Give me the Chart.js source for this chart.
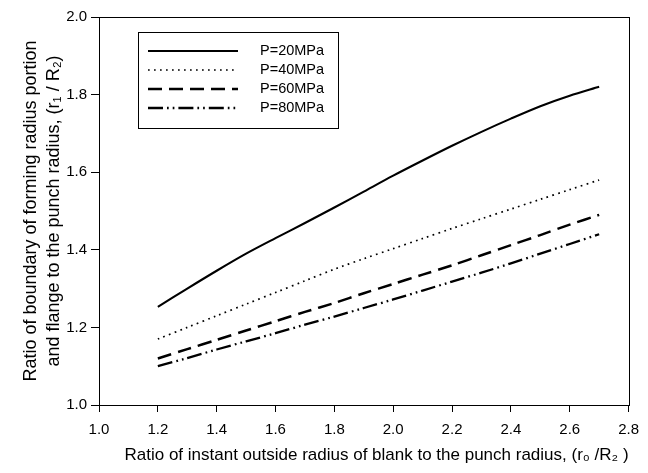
<!DOCTYPE html>
<html>
<head>
<meta charset="utf-8">
<script src="https://cdn.jsdelivr.net/npm/chart.js@4/dist/chart.umd.min.js"></script>
<style>
  html, body { margin: 0; padding: 0; background: #ffffff; }
  #wrap { width: 648px; height: 473px; }
</style>
</head>
<body>
<div id="wrap"><canvas id="c" width="648" height="473"></canvas></div>
<script>
// r0/R2 values where each curve is sampled
const ratioR0 = [1.2, 1.3, 1.4, 1.5, 1.6, 1.7, 1.8, 1.9, 2.0, 2.1, 2.2, 2.3, 2.4, 2.5, 2.6, 2.7];

// r1/R2 for each punch pressure
const p20 = [1.253, 1.300, 1.346, 1.390, 1.430, 1.469, 1.509, 1.550, 1.591, 1.630, 1.668, 1.704, 1.738, 1.770, 1.797, 1.820];
const p40 = [1.170, 1.200, 1.230, 1.260, 1.290, 1.320, 1.350, 1.377, 1.403, 1.429, 1.455, 1.480, 1.505, 1.530, 1.555, 1.580];
const p60 = [1.120, 1.144, 1.168, 1.192, 1.216, 1.240, 1.263, 1.288, 1.312, 1.336, 1.360, 1.386, 1.412, 1.438, 1.465, 1.490];
const p80 = [1.100, 1.121, 1.143, 1.164, 1.185, 1.207, 1.228, 1.250, 1.272, 1.295, 1.318, 1.341, 1.365, 1.390, 1.415, 1.440];

const seriesLabels = ['P=20MPa', 'P=40MPa', 'P=60MPa', 'P=80MPa'];

const xTicks = [1.0, 1.2, 1.4, 1.6, 1.8, 2.0, 2.2, 2.4, 2.6, 2.8];
const yTicks = [1.0, 1.2, 1.4, 1.6, 1.8, 2.0];

const FONT = '"Liberation Sans", Arial, Helvetica, sans-serif';

function pts(ys) { return ratioR0.map((x, i) => ({ x: x, y: ys[i] })); }

const styles = [
  { borderWidth: 2.1, borderDash: [] },
  { borderWidth: 1.7, borderDash: [1.7, 4.3] },
  { borderWidth: 2.5, borderDash: [14, 7] },
  { borderWidth: 2.3, borderDash: [15, 4, 1.7, 4, 1.7, 4] }
];

const datasets = [p20, p40, p60, p80].map((ys, i) => ({
  label: seriesLabels[i],
  data: pts(ys),
  borderColor: '#000000',
  backgroundColor: '#000000',
  borderWidth: styles[i].borderWidth,
  borderDash: styles[i].borderDash,
  borderCapStyle: 'butt',
  pointRadius: 0,
  tension: 0.3,
  fill: false
}));

// Box around the plotting area
const frame = {
  id: 'frame',
  afterDraw(chart) {
    const a = chart.chartArea, ctx = chart.ctx;
    ctx.save();
    ctx.strokeStyle = '#000';
    ctx.lineWidth = 1;
    ctx.strokeRect(Math.round(a.left) + 0.5, Math.round(a.top) + 0.5,
                   Math.round(a.right - a.left), Math.round(a.bottom - a.top));
    ctx.restore();
  }
};

// Boxed legend in the upper-left of the plot
const boxLegend = {
  id: 'boxLegend',
  afterDraw(chart) {
    const ctx = chart.ctx;
    const bx = 138.5, by = 32.5, bw = 200, bh = 96;
    ctx.save();
    ctx.strokeStyle = '#000';
    ctx.lineWidth = 1;
    ctx.strokeRect(bx, by, bw, bh);
    ctx.font = '14.5px ' + FONT;
    ctx.fillStyle = '#000';
    ctx.textBaseline = 'middle';
    ctx.textAlign = 'left';
    chart.data.datasets.forEach((ds, i) => {
      const y = 51 + i * 19;
      ctx.beginPath();
      ctx.lineWidth = ds.borderWidth;
      ctx.setLineDash(ds.borderDash || []);
      ctx.lineCap = 'butt';
      ctx.moveTo(148, y);
      ctx.lineTo(238, y);
      ctx.stroke();
      ctx.setLineDash([]);
      ctx.fillText(ds.label, 260, y);
    });
    ctx.restore();
  }
};

new Chart(document.getElementById('c'), {
  type: 'line',
  data: { datasets: datasets },
  plugins: [frame, boxLegend],
  options: {
    responsive: false,
    animation: false,
    layout: { padding: { left: 0, right: 11, top: 17, bottom: 0 } },
    plugins: { legend: { display: false }, tooltip: { enabled: false } },
    scales: {
      x: {
        type: 'linear',
        min: 1.0, max: 2.8,
        afterBuildTicks(scale) { scale.ticks = xTicks.map(v => ({ value: v })); },
        afterFit(scale) { scale.height = 68; },
        border: { display: true, color: '#000', width: 1 },
        grid: { display: true, drawOnChartArea: false, drawTicks: true, tickLength: 7, color: '#000', lineWidth: 1 },
        ticks: {
          color: '#000', padding: 9, maxRotation: 0, autoSkip: false,
          font: { family: FONT, size: 15 },
          callback: v => Number(v).toFixed(1)
        },
        title: {
          display: true,
          align: 'end',
          text: 'Ratio of instant outside radius of blank to the punch radius, (r\u2080 /R\u2082 )',
          color: '#000',
          font: { family: FONT, size: 17, lineHeight: 1.2 },
          padding: { top: 0, bottom: 7 }
        }
      },
      y: {
        type: 'linear',
        min: 1.0, max: 2.0,
        afterBuildTicks(scale) { scale.ticks = yTicks.map(v => ({ value: v })); },
        afterFit(scale) { scale.width = 99; },
        border: { display: true, color: '#000', width: 1 },
        grid: { display: true, drawOnChartArea: false, drawTicks: true, tickLength: 8, color: '#000', lineWidth: 1 },
        ticks: {
          color: '#000', padding: 4, autoSkip: false,
          font: { family: FONT, size: 15 },
          callback: v => Number(v).toFixed(1)
        },
        title: {
          display: true,
          text: ['Ratio of boundary of forming radius portion',
                 'and flange to the punch radius, (r\u2081 / R\u2082)'],
          color: '#000',
          font: { family: FONT, size: 18, lineHeight: 1.25 },
          padding: { top: 20, bottom: 0 }
        }
      }
    }
  }
});
</script>
</body>
</html>
